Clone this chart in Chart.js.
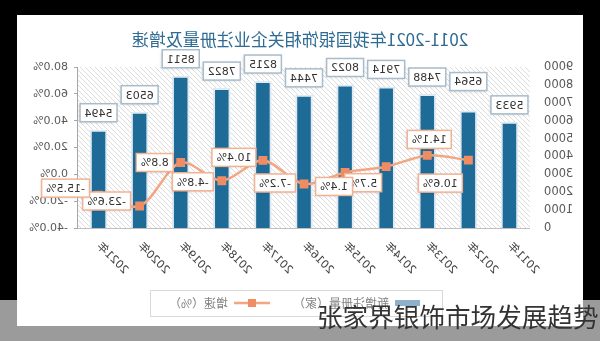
<!DOCTYPE html>
<html>
<head>
<meta charset="utf-8">
<script src="https://cdn.jsdelivr.net/npm/chart.js@4.4.0/dist/chart.umd.min.js"></script>
<style>
    html, body { margin: 0; padding: 0; }
    body { width: 600px; height: 341px; background: #000; position: relative; overflow: hidden; }
    #band { position: absolute; left: 0; top: 300px; width: 600px; height: 41px; background: #9b9b9b; }
    /* the reference picture is a mirror image, so the card is flipped */
    #card { position: absolute; left: 17px; top: 15px; width: 566px; height: 311px; background: #fff; transform: scaleX(-1); }
    #mark { position: absolute; left: 317px; top: 303px; font: 25.6px "Noto Sans CJK SC"; line-height: 1; color: #333; white-space: nowrap; }
</style>
</head>
<body>
<div id="band"></div>
<div id="card"><canvas id="regs" width="566" height="311"></canvas></div>
<div id="mark">张家界银饰市场发展趋势</div>
<script>
// 数据
var years = ['2011年', '2012年', '2013年', '2014年', '2015年', '2016年', '2017年', '2018年', '2019年', '2020年', '2021年'];
var registrations = [5933, 6564, 7488, 7914, 8022, 7444, 8215, 7822, 8511, 6503, 5494];
var growth = [null, 10.6, 14.1, 5.7, 1.4, -7.2, 10.4, -4.8, 8.8, -23.6, -15.5];
var countAxis = { min: 0, max: 9000, step: 1000 };
var pctAxis = { min: -40, max: 80, step: 20 };

Chart.defaults.font.family = '"DejaVu Sans", "Noto Sans CJK SC", sans-serif';

// 斜线底纹
function hatch() {
    var c = document.createElement('canvas');
    c.width = 5; c.height = 5;
    var g = c.getContext('2d');
    g.strokeStyle = '#dcdcdc';
    g.lineWidth = 1;
    g.beginPath();
    g.moveTo(0, 5); g.lineTo(5, 0);
    g.moveTo(-1, 1); g.lineTo(1, -1);
    g.moveTo(4, 6); g.lineTo(6, 4);
    g.stroke();
    return c;
}

function drawBox(ctx, text, cx, cy, border) {
    var w = ctx.measureText(text).width + 9;
    var h = 18;
    ctx.save();
    ctx.shadowColor = 'rgba(0,0,0,0.18)';
    ctx.shadowBlur = 3;
    ctx.shadowOffsetX = 1;
    ctx.shadowOffsetY = 1;
    ctx.fillStyle = '#fff';
    ctx.fillRect(cx - w / 2, cy - h / 2, w, h);
    ctx.restore();
    ctx.strokeStyle = border;
    ctx.lineWidth = 1.5;
    ctx.strokeRect(cx - w / 2, cy - h / 2, w, h);
    ctx.fillStyle = '#333';
    ctx.fillText(text, cx, cy + 1);
}

var backdrop = {
    id: 'backdrop',
    beforeDatasetsDraw: function (chart) {
        var a = chart.chartArea, ctx = chart.ctx;
        ctx.save();
        ctx.fillStyle = ctx.createPattern(hatch(), 'repeat');
        ctx.fillRect(a.left, a.top, a.right - a.left, a.bottom - a.top);
        ctx.restore();
    }
};

// 数值标签
var lineLabelOffsets = [null, [28, 23], [-2, -16], [23, 16], [11, 14], [29, -1], [29, -3], [29, 1], [26, 0], [33, -5], [33, -7]];
var valueBoxes = {
    id: 'valueBoxes',
    afterDatasetsDraw: function (chart) {
        var ctx = chart.ctx;
        ctx.save();
        ctx.font = '11px "DejaVu Sans"';
        ctx.textAlign = 'center';
        ctx.textBaseline = 'middle';
        chart.getDatasetMeta(0).data.forEach(function (bar, i) {
            var lift = i === 1 ? 29 : 17;
            drawBox(ctx, String(registrations[i]), bar.x, bar.y - lift, '#a9bccb');
        });
        chart.getDatasetMeta(1).data.forEach(function (pt, i) {
            if (growth[i] === null) return;
            var o = lineLabelOffsets[i];
            drawBox(ctx, growth[i].toFixed(1) + '%', pt.x + o[0], pt.y + o[1], '#f2b294');
        });
        ctx.restore();
    }
};

// 图例符号和边框
var legendDeco = {
    id: 'legendDeco',
    afterDraw: function (chart) {
        var lg = chart.legend, ctx = chart.ctx;
        if (!lg || !lg.legendHitBoxes.length) return;
        var hb = lg.legendHitBoxes;
        var bw = lg.options.labels.boxWidth;
        ctx.save();
        var y0 = hb[0].top + hb[0].height / 2;
        ctx.fillStyle = '#8db0cb';
        ctx.fillRect(hb[0].left + bw - 25, y0 - 3, 25, 6);
        var y1 = hb[1].top + hb[1].height / 2;
        ctx.strokeStyle = '#f4a582';
        ctx.lineWidth = 2.5;
        ctx.beginPath();
        ctx.moveTo(hb[1].left, y1);
        ctx.lineTo(hb[1].left + bw, y1);
        ctx.stroke();
        ctx.fillStyle = '#f08c64';
        ctx.fillRect(hb[1].left + bw / 2 - 4, y1 - 4, 8, 8);
        var l = hb[0].left - 12, r = hb[1].left + hb[1].width + 18;
        ctx.strokeStyle = '#d9d9d9';
        ctx.lineWidth = 1;
        ctx.strokeRect(l + 0.5, y0 - 13 + 0.5, r - l, 26);
        ctx.restore();
    }
};

var ctx = document.getElementById('regs').getContext('2d');
var regsChart = new Chart(ctx, {
    type: 'bar',
    data: {
        labels: years,
        datasets: [{
            type: 'bar',
            label: '新增注册量（家）',
            data: registrations,
            yAxisID: 'count',
            backgroundColor: '#1d6b96',
            borderColor: '#dfeaf3',
            borderWidth: 2,
            barPercentage: 0.45,
            categoryPercentage: 0.95,
            order: 2
        }, {
            type: 'line',
            label: '增速（%）',
            data: growth,
            yAxisID: 'pct',
            borderColor: '#f4a582',
            borderWidth: 2.5,
            pointStyle: 'rect',
            pointRadius: 4.5,
            pointBackgroundColor: '#f08c64',
            pointBorderColor: '#f08c64',
            tension: 0.3,
            order: 1
        }]
    },
    options: {
        responsive: false,
        animation: false,
        layout: { padding: { left: 0, right: 0, top: 0, bottom: 7 } },
        plugins: {
            title: {
                display: true,
                text: '2011-2021年我国银饰相关企业注册量及增速',
                color: '#2f6b93',
                font: { size: 17, family: '"Noto Sans CJK SC"', weight: 'normal' },
                padding: { top: 14, bottom: 17.6 }
            },
            legend: {
                position: 'bottom',
                labels: {
                    boxWidth: 36,
                    boxHeight: 6,
                    padding: 23,
                    color: '#808080',
                    font: { size: 12, family: '"Noto Sans CJK SC"' },
                    sort: function (a, b) { return a.datasetIndex - b.datasetIndex; },
                    generateLabels: function (chart) {
                        var items = Chart.defaults.plugins.legend.labels.generateLabels(chart);
                        items.forEach(function (it) {
                            it.fillStyle = 'rgba(0,0,0,0)';
                            it.strokeStyle = 'rgba(0,0,0,0)';
                            it.lineWidth = 0;
                        });
                        return items;
                    }
                }
            },
            tooltip: { enabled: false }
        },
        scales: {
            x: {
                grid: { display: false },
                border: { color: '#bfbfbf' },
                ticks: { minRotation: 45, maxRotation: 45, color: '#404040', font: { size: 11 }, padding: 4 },
                afterFit: function (s) { s.height = 46; }
            },
            count: {
                position: 'left',
                min: countAxis.min,
                max: countAxis.max,
                grid: { display: false },
                border: { display: false },
                ticks: {
                    stepSize: countAxis.step,
                    color: '#595959',
                    font: { size: 11.5 },
                    padding: 6,
                    callback: function (v) { return String(v); }
                },
                afterFit: function (s) { s.width = 53; }
            },
            pct: {
                position: 'right',
                min: pctAxis.min,
                max: pctAxis.max,
                grid: { drawOnChartArea: false, tickLength: 4, color: '#a6a6a6' },
                border: { display: true, color: '#a6a6a6' },
                ticks: {
                    stepSize: pctAxis.step,
                    color: '#595959',
                    font: { size: 11 },
                    padding: 6,
                    callback: function (v) { return v.toFixed(1) + '%'; }
                },
                afterFit: function (s) { s.width = 61; }
            }
        }
    },
    plugins: [backdrop, valueBoxes, legendDeco]
});
</script>
</body>
</html>
